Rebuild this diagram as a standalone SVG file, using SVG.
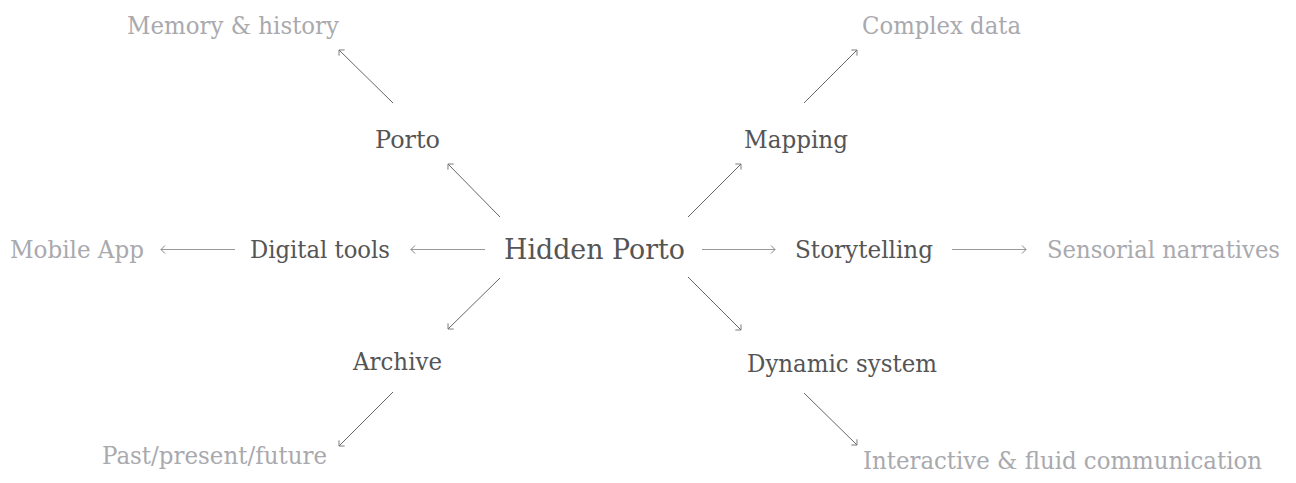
<svg xmlns="http://www.w3.org/2000/svg" width="1296" height="483" viewBox="0 0 1296 483">
  <style>
    text { font-family: "DejaVu Serif", "Liberation Serif", serif; }
    .main { font-size: 28px; fill: #555555; }
    .sec { font-size: 24px; fill: #555555; }
    .ter { font-size: 24px; fill: #a9a9ae; }
    .conn { stroke: #666666; stroke-width: 1; fill: none; marker-end: url(#chev); }
    .h { stroke: #999999; }
  </style>
  <defs>
    <marker id="chev" markerUnits="userSpaceOnUse" viewBox="-6 -6 8 12" refX="0" refY="0" markerWidth="8" markerHeight="12" orient="auto">
      <path d="M-4,-4 L0,0 L-4,4" fill="none" stroke="#777777" stroke-width="0.9"/>
    </marker>
  </defs>
  <rect width="1296" height="483" fill="#ffffff"/>

  <g id="connectors">
    <line class="conn h" x1="485" y1="249.5" x2="411" y2="249.5"/>
    <line class="conn h" x1="235" y1="249.5" x2="161" y2="249.5"/>
    <line class="conn h" x1="702" y1="249.5" x2="775" y2="249.5"/>
    <line class="conn h" x1="952" y1="249.5" x2="1026" y2="249.5"/>
    <line class="conn" x1="500" y1="217" x2="448" y2="164"/>
    <line class="conn" x1="393" y1="103" x2="339" y2="50"/>
    <line class="conn" x1="688" y1="217" x2="741" y2="164"/>
    <line class="conn" x1="804" y1="103" x2="857" y2="50"/>
    <line class="conn" x1="500" y1="278" x2="448" y2="329"/>
    <line class="conn" x1="393" y1="392" x2="339" y2="446"/>
    <line class="conn" x1="688" y1="277" x2="741" y2="330"/>
    <line class="conn" x1="804" y1="393" x2="857" y2="445"/>
  </g>

  <g id="hidden-porto"><text class="main" x="504" y="259" textLength="181" lengthAdjust="spacingAndGlyphs">Hidden Porto</text></g>
  <g id="porto"><text class="sec" x="375" y="148" textLength="65" lengthAdjust="spacingAndGlyphs">Porto</text></g>
  <g id="memory-history"><text class="ter" x="127" y="34" textLength="212" lengthAdjust="spacingAndGlyphs">Memory &amp; history</text></g>
  <g id="mapping"><text class="sec" x="744" y="148" textLength="104" lengthAdjust="spacingAndGlyphs">Mapping</text></g>
  <g id="complex-data"><text class="ter" x="862" y="34" textLength="159" lengthAdjust="spacingAndGlyphs">Complex data</text></g>
  <g id="digital-tools"><text class="sec" x="250" y="258" textLength="140" lengthAdjust="spacingAndGlyphs">Digital tools</text></g>
  <g id="mobile-app"><text class="ter" x="10" y="258" textLength="134" lengthAdjust="spacingAndGlyphs">Mobile App</text></g>
  <g id="storytelling"><text class="sec" x="795" y="258" textLength="138" lengthAdjust="spacingAndGlyphs">Storytelling</text></g>
  <g id="sensorial-narratives"><text class="ter" x="1047" y="258" textLength="233" lengthAdjust="spacingAndGlyphs">Sensorial narratives</text></g>
  <g id="archive"><text class="sec" x="353" y="370" textLength="89" lengthAdjust="spacingAndGlyphs">Archive</text></g>
  <g id="past-present-future"><text class="ter" x="102" y="464" textLength="225" lengthAdjust="spacingAndGlyphs">Past/present/future</text></g>
  <g id="dynamic-system"><text class="sec" x="747" y="372" textLength="190" lengthAdjust="spacingAndGlyphs">Dynamic system</text></g>
  <g id="interactive"><text class="ter" x="863" y="469" textLength="399" lengthAdjust="spacingAndGlyphs">Interactive &amp; fluid communication</text></g>
</svg>
